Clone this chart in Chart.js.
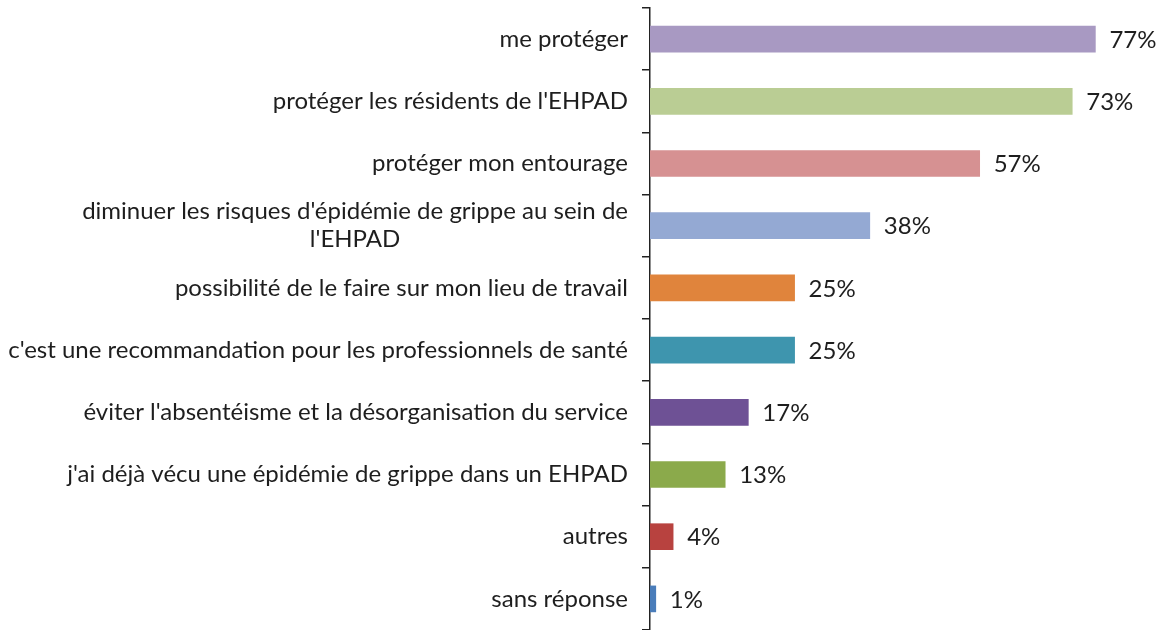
<!DOCTYPE html>
<html>
<head>
<meta charset="utf-8">
<script src="https://cdn.jsdelivr.net/npm/chart.js@4"></script>
<style>
  html, body { margin: 0; padding: 0; background: #fff; }
  #wrap { width: 1159px; height: 630px; position: relative; }
</style>
</head>
<body>
<div id="wrap"><canvas id="myChart"></canvas></div>
<script>
const categories = [
  "me protéger",
  "protéger les résidents de l'EHPAD",
  "protéger mon entourage",
  ["diminuer les risques d'épidémie de grippe au sein de", "l'EHPAD"],
  "possibilité de le faire sur mon lieu de travail",
  "c'est une recommandation pour les professionnels de santé",
  "éviter l'absentéisme et la désorganisation du service",
  "j'ai déjà vécu une épidémie de grippe dans un EHPAD",
  "autres",
  "sans réponse"
];
const percents = [77, 73, 57, 38, 25, 25, 17, 13, 4, 1];
const barColors = ['#A899C2', '#BACD94', '#D69192', '#94A9D3', '#E0843C',
                   '#3E95AE', '#6E5195', '#8BAA4B', '#B8423F', '#4A7DBA'];

const FONT = '24px Lato, "Open Sans", sans-serif';

// draws the category labels (centred lines) and the % values
const labelPlugin = {
  id: 'labels',
  afterDraw(chart) {
    const ctx = chart.ctx;
    const y = chart.scales.y;
    const meta = chart.getDatasetMeta(0);
    ctx.save();
    ctx.font = FONT;
    ctx.fillStyle = '#1e1e1e';
    ctx.textBaseline = 'middle';
    categories.forEach((cat, i) => {
      const cy = y.getPixelForValue(i);
      const lines = Array.isArray(cat) ? cat : [cat];
      const lh = 28;
      const right = y.right - 22;
      const widest = Math.max(...lines.map(l => ctx.measureText(l).width));
      lines.forEach((l, j) => {
        const ly = cy + (j - (lines.length - 1) / 2) * lh;
        if (lines.length > 1) {
          ctx.textAlign = 'center';
          ctx.fillText(l, right - widest / 2, ly);
        } else {
          ctx.textAlign = 'right';
          ctx.fillText(l, right, ly);
        }
      });
      const bar = meta.data[i];
      ctx.textAlign = 'left';
      ctx.fillText(percents[i] + '%', bar.x + 14, bar.y + 1);
    });
    ctx.restore();
  }
};

const ctx = document.getElementById('myChart').getContext('2d');
const chart = new Chart(ctx, {
  type: 'bar',
  data: {
    labels: categories,
    datasets: [{
      data: percents,
      backgroundColor: barColors,
      borderWidth: 0,
      barThickness: 26
    }]
  },
  plugins: [labelPlugin],
  options: {
    indexAxis: 'y',
    responsive: true,
    maintainAspectRatio: false,
    animation: false,
    layout: { padding: { top: 8, bottom: 0, left: 0, right: 0 } },
    plugins: { legend: { display: false }, tooltip: { enabled: false } },
    scales: {
      x: {
        display: false,
        min: 0,
        max: 88
      },
      y: {
        afterFit(scale) { scale.width = 650; },
        grid: {
          offset: true,
          drawOnChartArea: false,
          drawTicks: true,
          tickLength: 8,
          color: '#222',
          lineWidth: 1.5
        },
        border: { display: true, color: '#222', width: 1.5 },
        ticks: { display: false }
      }
    }
  }
});
</script>
</body>
</html>
